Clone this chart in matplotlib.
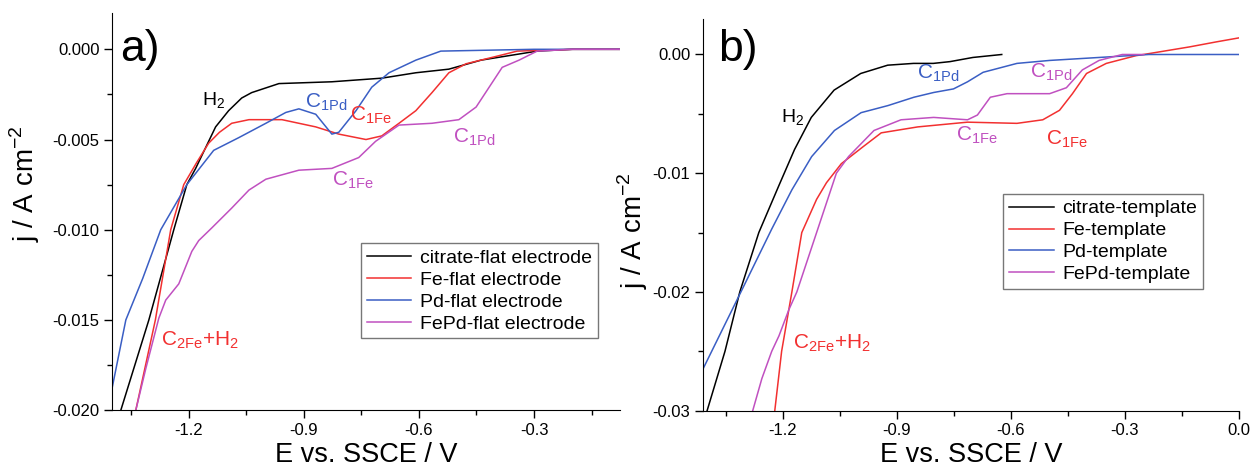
import matplotlib
matplotlib.use('Agg')
import matplotlib.pyplot as plt
from matplotlib.ticker import MultipleLocator, FormatStrFormatter

plt.rcParams['font.family'] = ['Liberation Sans', 'DejaVu Sans']
plt.rcParams['mathtext.fontset'] = 'custom'
plt.rcParams['mathtext.rm'] = 'Liberation Sans'
plt.rcParams['axes.unicode_minus'] = False

# panel a) flat electrodes
a_black_x = [-1.377, -1.304, -1.239, -1.205, -1.182, -1.13, -1.096, -1.062, -1.036, -0.965, -0.827, -0.697, -0.608, -0.522, -0.438, -0.292, -0.2, -0.076]
a_black_y = [-0.020, -0.015, -0.010, -0.0075, -0.0066, -0.0043, -0.0034, -0.0027, -0.0024, -0.0019, -0.0018, -0.0016, -0.0013, -0.0011, -0.0006, -0.0001, 0.0, 0.0]
a_red_x = [-1.338, -1.287, -1.247, -1.213, -1.18, -1.148, -1.12, -1.088, -1.043, -0.957, -0.869, -0.809, -0.738, -0.697, -0.652, -0.608, -0.566, -0.522, -0.477, -0.40, -0.344, -0.2, -0.076]
a_red_y = [-0.020, -0.015, -0.010, -0.0075, -0.0063, -0.0052, -0.0046, -0.0041, -0.0039, -0.0039, -0.0043, -0.0047, -0.0050, -0.0048, -0.0041, -0.0034, -0.0024, -0.0013, -0.0008, -0.0004, -0.0001, 0.0, 0.0]
a_blue_x = [-1.40, -1.364, -1.32, -1.273, -1.205, -1.135, -1.07, -0.999, -0.947, -0.913, -0.869, -0.827, -0.809, -0.764, -0.723, -0.678, -0.608, -0.543, -0.3, -0.076]
a_blue_y = [-0.0188, -0.015, -0.0127, -0.010, -0.0075, -0.0056, -0.0049, -0.0041, -0.0035, -0.0033, -0.0036, -0.0047, -0.0046, -0.0034, -0.0021, -0.0013, -0.0006, -0.0001, 0.0, 0.0]
a_mag_x = [-1.338, -1.312, -1.278, -1.26, -1.226, -1.192, -1.174, -1.14, -1.088, -1.043, -0.999, -0.913, -0.827, -0.757, -0.713, -0.652, -0.566, -0.496, -0.451, -0.417, -0.383, -0.339, -0.292, -0.2, -0.076]
a_mag_y = [-0.020, -0.0177, -0.0149, -0.0139, -0.013, -0.0112, -0.0106, -0.0099, -0.0088, -0.0078, -0.0072, -0.0067, -0.0066, -0.006, -0.0051, -0.0042, -0.0041, -0.0039, -0.0032, -0.0021, -0.001, -0.0006, -0.0001, 0.0, 0.0]

# panel b) templates
b_black_x = [-1.399, -1.352, -1.313, -1.263, -1.211, -1.169, -1.125, -1.065, -0.995, -0.924, -0.856, -0.804, -0.760, -0.700, -0.624]
b_black_y = [-0.030, -0.025, -0.020, -0.015, -0.0111, -0.0080, -0.0053, -0.0030, -0.0016, -0.0009, -0.00075, -0.00075, -0.0006, -0.00025, 0.0]
b_red_x = [-1.221, -1.203, -1.176, -1.150, -1.111, -1.085, -1.046, -0.99, -0.941, -0.845, -0.714, -0.584, -0.516, -0.472, -0.438, -0.401, -0.349, -0.271, -0.251, -0.13, -0.06, 0.0]
b_red_y = [-0.030, -0.025, -0.020, -0.015, -0.0122, -0.0108, -0.0092, -0.0078, -0.0066, -0.0061, -0.0057, -0.0058, -0.0055, -0.0047, -0.0033, -0.0016, -0.00075, -0.0001, 0.0, 0.00064, 0.00106, 0.0014]
b_blue_x = [-1.41, -1.307, -1.229, -1.176, -1.124, -1.064, -0.994, -0.923, -0.855, -0.803, -0.751, -0.714, -0.673, -0.584, -0.498, -0.368, -0.237, 0.0]
b_blue_y = [-0.0265, -0.0198, -0.0147, -0.0114, -0.0086, -0.0064, -0.0049, -0.0043, -0.0036, -0.0032, -0.0029, -0.0023, -0.0015, -0.00075, -0.0005, -0.00025, 0.0, 0.0]
b_mag_x = [-1.279, -1.255, -1.229, -1.21, -1.184, -1.163, -1.111, -1.059, -1.027, -0.960, -0.889, -0.803, -0.714, -0.688, -0.654, -0.610, -0.498, -0.454, -0.412, -0.368, -0.307, -0.25]
b_mag_y = [-0.030, -0.0273, -0.025, -0.0237, -0.0215, -0.020, -0.015, -0.010, -0.0086, -0.0064, -0.0055, -0.0053, -0.0055, -0.0051, -0.0036, -0.0033, -0.0033, -0.0028, -0.0013, -0.0005, 0.0, 0.0]

a_names = ['citrate-flat electrode', 'Fe-flat electrode', 'Pd-flat electrode', 'FePd-flat electrode']
b_names = ['citrate-template', 'Fe-template', 'Pd-template', 'FePd-template']

BLACK = 'black'
RED = '#f23030'
BLUE = '#3a5ec4'
MAG = '#c050c0'


def style_axes(ax, xlim, ylim, ymajor, yfmt):
    ax.set_xlim(*xlim)
    ax.set_ylim(*ylim)
    for s in ['top', 'right']:
        ax.spines[s].set_visible(False)
    ax.xaxis.set_major_locator(MultipleLocator(0.3))
    ax.xaxis.set_minor_locator(MultipleLocator(0.15))
    ax.yaxis.set_major_locator(MultipleLocator(ymajor))
    ax.yaxis.set_minor_locator(MultipleLocator(ymajor / 2))
    ax.xaxis.set_major_formatter(FormatStrFormatter('%.1f'))
    ax.yaxis.set_major_formatter(FormatStrFormatter(yfmt))
    ax.tick_params(which='major', direction='out', length=6, width=1, labelsize=12, pad=3)
    ax.tick_params(which='minor', direction='out', length=3.5, width=1)
    ax.set_xlabel('E vs. SSCE / V', fontsize=19.5, labelpad=3)
    ax.set_ylabel(r'j / A cm$^{\mathregular{-2}}$', fontsize=20)


def legend(ax, anchor):
    leg = ax.legend(loc='upper left', bbox_to_anchor=anchor, fontsize=14, frameon=True,
                    fancybox=False, edgecolor='#555555', handlelength=2.3, handletextpad=0.45,
                    borderpad=0.3, labelspacing=0.22, borderaxespad=0)
    leg.get_frame().set_linewidth(1)


fig = plt.figure(figsize=(12.53, 4.72), dpi=100)

# ---- a)
ax1 = fig.add_axes([0.0894, 0.131, 0.4054, 0.841])
ax1.plot(a_black_x, a_black_y, color=BLACK, lw=1.1, label=a_names[0])
ax1.plot(a_red_x, a_red_y, color=RED, lw=1.1, label=a_names[1])
ax1.plot(a_blue_x, a_blue_y, color=BLUE, lw=1.1, label=a_names[2])
ax1.plot(a_mag_x, a_mag_y, color=MAG, lw=1.1, label=a_names[3])
style_axes(ax1, (-1.40, -0.076), (-0.020, 0.002), 0.005, '%.3f')
ax1.yaxis.set_label_coords(-0.138, 0.57)
ax1.text(-1.38, 0.0, 'a)', fontsize=32, va='center', ha='left')
ax1.text(-1.166, -0.00283, r'H$_{\mathregular{2}}$', color=BLACK, fontsize=14, va='center')
ax1.text(-0.897, -0.00294, r'C$_{\mathregular{1Pd}}$', color=BLUE, fontsize=15, va='center')
ax1.text(-0.780, -0.00367, r'C$_{\mathregular{1Fe}}$', color=RED, fontsize=15, va='center')
ax1.text(-0.511, -0.00489, r'C$_{\mathregular{1Pd}}$', color=MAG, fontsize=15, va='center')
ax1.text(-0.827, -0.00728, r'C$_{\mathregular{1Fe}}$', color=MAG, fontsize=15, va='center')
ax1.text(-1.273, -0.01611, r'C$_{\mathregular{2Fe}}$+H$_{\mathregular{2}}$', color=RED, fontsize=15, va='center')
legend(ax1, (0.49, 0.42))

# ---- b)
ax2 = fig.add_axes([0.561, 0.13, 0.4278, 0.83])
ax2.plot(b_black_x, b_black_y, color=BLACK, lw=1.1, label=b_names[0])
ax2.plot(b_red_x, b_red_y, color=RED, lw=1.1, label=b_names[1])
ax2.plot(b_blue_x, b_blue_y, color=BLUE, lw=1.1, label=b_names[2])
ax2.plot(b_mag_x, b_mag_y, color=MAG, lw=1.1, label=b_names[3])
style_axes(ax2, (-1.41, 0.0), (-0.030, 0.003), 0.01, '%.2f')
ax2.yaxis.set_label_coords(-0.099, 0.46)
ax2.text(-1.37, 0.0004, 'b)', fontsize=32, va='center', ha='left')
ax2.text(-1.205, -0.00536, r'H$_{\mathregular{2}}$', color=BLACK, fontsize=14, va='center')
ax2.text(-0.846, -0.00154, r'C$_{\mathregular{1Pd}}$', color=BLUE, fontsize=15, va='center')
ax2.text(-0.550, -0.00145, r'C$_{\mathregular{1Pd}}$', color=MAG, fontsize=15, va='center')
ax2.text(-0.744, -0.00676, r'C$_{\mathregular{1Fe}}$', color=MAG, fontsize=15, va='center')
ax2.text(-0.508, -0.00712, r'C$_{\mathregular{1Fe}}$', color=RED, fontsize=15, va='center')
ax2.text(-1.174, -0.02436, r'C$_{\mathregular{2Fe}}$+H$_{\mathregular{2}}$', color=RED, fontsize=15, va='center')
legend(ax2, (0.56, 0.553))

fig.savefig('out.png', dpi=100)
